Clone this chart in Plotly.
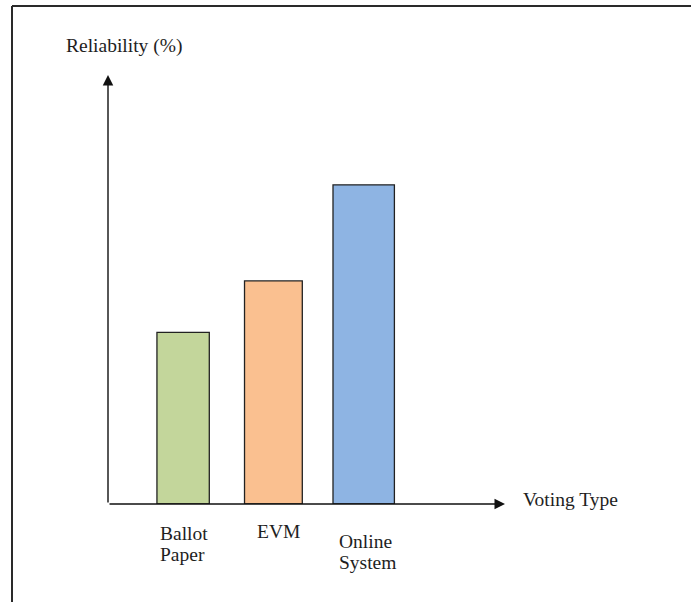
import plotly.graph_objects as go

# ---- data ----
categories = ["Ballot Paper", "EVM", "Online System"]
reliability = [40, 52, 74.4]
tick_lines = [["Ballot", "Paper"], ["EVM"], ["Online", "System"]]
x_title = "Voting Type"
y_title = "Reliability (%)"

# ---- styling ----
bar_colors = ["#C3D69B", "#FAC090", "#8EB4E3"]
bar_widths = [0.58, 0.64, 0.68]
W, H = 691, 602
FONT = "Liberation Serif, Times New Roman, serif"
TXT = "#1e1e1e"
FS = 19.5

def px(x):
    return x / W

def py(y):
    return (H - y) / H

X0, X1 = -0.832, 3.565   # x-axis range (category units)
Y0, Y1 = 0, 100

fig = go.Figure(
    go.Bar(
        x=categories,
        y=reliability,
        width=bar_widths,
        marker=dict(color=bar_colors, line=dict(color="#222222", width=1.3)),
        hoverinfo="x+y",
    )
)

fig.update_layout(
    width=W,
    height=H,
    margin=dict(l=0, r=0, t=0, b=0),
    paper_bgcolor="white",
    plot_bgcolor="white",
    showlegend=False,
    xaxis=dict(
        type="category",
        domain=[px(108), px(505)],
        range=[X0, X1],
        showticklabels=False,
        showgrid=False,
        zeroline=False,
        showline=False,
        ticks="",
    ),
    yaxis=dict(
        domain=[py(504), py(75)],
        range=[Y0, Y1],
        showticklabels=False,
        showgrid=False,
        zeroline=False,
        showline=False,
        ticks="",
    ),
    font=dict(family=FONT, size=FS, color=TXT),
)

annotations = []
# axis arrows
annotations.append(dict(x=X1, y=Y0, xref="x", yref="y", ax=X0, ay=Y0, axref="x", ayref="y",
                        text="", showarrow=True, arrowhead=2, arrowsize=1.5, arrowwidth=1.4,
                        arrowcolor="#111111"))
annotations.append(dict(x=X0, y=Y1, xref="x", yref="y", ax=X0, ay=Y0, axref="x", ayref="y",
                        text="", showarrow=True, arrowhead=2, arrowsize=1.5, arrowwidth=1.4,
                        arrowcolor="#111111"))
# axis titles
annotations.append(dict(x=px(124), y=py(46), xref="paper", yref="paper", text=y_title,
                        showarrow=False, xanchor="center", yanchor="middle",
                        font=dict(family=FONT, size=FS, color=TXT)))
annotations.append(dict(x=px(521), y=py(499), xref="paper", yref="paper", text=x_title,
                        showarrow=False, xanchor="left", yanchor="middle",
                        font=dict(family=FONT, size=FS, color=TXT)))
# category labels (positions of each line, in pixels from top)
line_y = [[533, 554], [531], [541, 562]]
line_x = [158, 255, 337]
for i, lines in enumerate(tick_lines):
    for j, ln in enumerate(lines):
        annotations.append(dict(x=px(line_x[i]), y=py(line_y[i][j]), xref="paper", yref="paper",
                                text=ln, showarrow=False, xanchor="left", yanchor="middle",
                                font=dict(family=FONT, size=FS, color=TXT)))
fig.update_layout(annotations=annotations)

# image border (top and left edges)
fig.update_layout(shapes=[
    dict(type="line", xref="paper", yref="paper", x0=px(12), x1=1, y0=py(6), y1=py(6),
         line=dict(color="#2a2a2a", width=2)),
    dict(type="line", xref="paper", yref="paper", x0=px(12), x1=px(12), y0=0, y1=py(6),
         line=dict(color="#2a2a2a", width=2)),
])

fig.write_html(
    "out.html",
    config={"displayModeBar": False},
    post_script="document.body.style.margin='0';document.body.style.overflow='hidden';",
)
